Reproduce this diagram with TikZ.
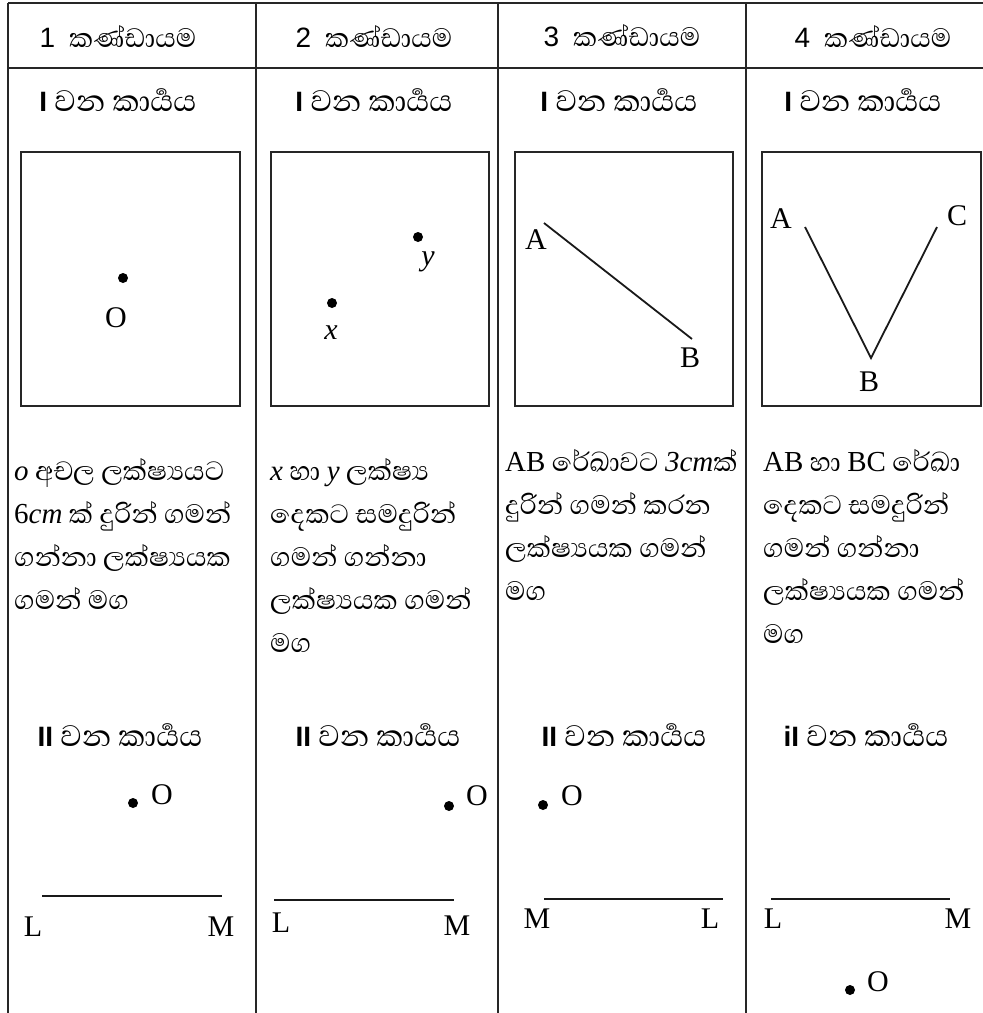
\documentclass[tikz,border=0pt]{standalone}
\usepackage{fontspec}
\setmainfont{Liberation Serif}
\newfontfamily\sinhfont[Script=Sinhala]{Abhaya Libre}
\newfontfamily\headfont{Liberation Sans}
\usetikzlibrary{positioning}
\newcommand{\lat}[1]{{\rmfamily\fontsize{29}{29}\selectfont #1}}
\newcommand{\latit}[1]{{\rmfamily\itshape\fontsize{29}{29}\selectfont #1}}
\newcommand{\hd}[1]{{\headfont\fontsize{28}{28}\selectfont #1}}
\newcommand{\tk}[1]{{\headfont\bfseries\fontsize{28}{28}\selectfont #1}}

\tikzset{
  rule/.style={line width=1.8pt, draw=black!85},
  frame/.style={line width=2.2pt, draw=black!85},
  seg/.style={line width=1.8pt, draw=black!90},
  dot/.style={circle, fill=black, inner sep=0pt, minimum size=10pt},
  lbl/.style={font=\fontsize{30}{30}\selectfont, inner sep=0pt},
  head/.style={font=\sinhfont\fontsize{34}{34}\selectfont, inner sep=0pt},
  task/.style={font=\sinhfont\fontsize{38}{38}\selectfont, inner sep=0pt},
  body/.style={font=\sinhfont\fontsize{34}{34}\selectfont, anchor=base west, inner sep=0pt},
}

\begin{document}
\begin{tikzpicture}[x=1pt,y=-1pt]
\useasboundingbox (0,0) rectangle (983,1013);
% table rules
\draw[rule] (8,3) -- (983,3);
\draw[rule] (8,68) -- (983,68);
\foreach \x in {8,256,498,746}{\draw[rule] (\x,3) -- (\x,1013);}

% header and first task row
\node[head] (h1) at (118,36) {\hd{1}\hspace{14pt}කණ්ඩායම};
\node[head] (h2) at (374,36) {\hd{2}\hspace{14pt}කණ්ඩායම};
\node[head] (h3) at (622,36) {\hd{3}\hspace{14pt}කණ්ඩායම};
\node[head] (h4) at (873,36) {\hd{4}\hspace{14pt}කණ්ඩායම};
\node[task] (t1) at (118,100) {\tk{I} වන කාර්‍යය};
\node[task] (t2) at (374,100) {\tk{I} වන කාර්‍යය};
\node[task] (t3) at (619,100) {\tk{I} වන කාර්‍යය};
\node[task] (t4) at (863,100) {\tk{I} වන කාර්‍යය};

% boxes of task I
\draw[frame] (21,152) rectangle (240,406);
\draw[frame] (271,152) rectangle (489,406);
\draw[frame] (515,152) rectangle (733,406);
\draw[frame] (762,152) rectangle (981,406);

\node[dot] (o1) at (123,278) {}; \node[lbl] (o1l) at (116,318) {O};
\node[dot] (y2) at (418,237) {}; \node[lbl] (y2l) at (428,262) {\itshape y};
\node[dot] (x2) at (332,303) {}; \node[lbl] (x2l) at (331,333) {\itshape x};

\coordinate (a3) at (544,223); \coordinate (b3) at (692,339);
\draw[seg] (a3) -- (b3);
\node[lbl] (a3l) at (536,240) {A}; \node[lbl] (b3l) at (690,358) {B};

\coordinate (a4) at (805,227); \coordinate (b4) at (871,358); \coordinate (c4) at (937,227);
\draw[seg] (a4) -- (b4) -- (c4);
\node[lbl] (a4l) at (781,219) {A}; \node[lbl] (c4l) at (957,216) {C};
\node[lbl] (b4l) at (869,382) {B};

% descriptions
\foreach \t [count=\i] in {{\latit{o} අචල ලක්ෂ්‍යයට},{\lat{6}\latit{cm} ක් දුරින් ගමන්},{ගන්නා ලක්ෂ්‍යයක},{ගමන් මග}}
  {\node[body] (d1-\i) at (14,480+43*\i-43) {\t};}
\foreach \t [count=\i] in {{\latit{x} හා \latit{y} ලක්ෂ්‍ය},{දෙකට සමදුරින්},{ගමන් ගන්නා},{ලක්ෂ්‍යයක ගමන්},{මග}}
  {\node[body] (d2-\i) at (270,480+43*\i-43) {\t};}
\foreach \t [count=\i] in {{\lat{AB} රේඛාවට \latit{3cm}ක්},{දුරින් ගමන් කරන},{ලක්ෂ්‍යයක ගමන්},{මග}}
  {\node[body] (d3-\i) at (505,471+43*\i-43) {\t};}
\foreach \t [count=\i] in {{\lat{AB} හා \lat{BC} රේඛා},{දෙකට සමදුරින්},{ගමන් ගන්නා},{ලක්ෂ්‍යයක ගමන්},{මග}}
  {\node[body] (d4-\i) at (763,471+43*\i-43) {\t};}

% second task row
\node[task] (s1) at (120,735) {\tk{II} වන කාර්‍යය};
\node[task] (s2) at (378,735) {\tk{II} වන කාර්‍යය};
\node[task] (s3) at (624,735) {\tk{II} වන කාර්‍යය};
\node[task] (s4) at (866,735) {\tk{iI} වන කාර්‍යය};

\node[dot] (p1) at (133,803) {}; \node[lbl] (p1l) at (162,795) {O};
\coordinate (l1) at (42,896); \coordinate (m1) at (222,896);
\draw[seg] (l1) -- (m1);
\node[lbl] (l1l) at (33,927) {L}; \node[lbl] (m1l) at (221,927) {M};

\node[dot] (p2) at (449,806) {}; \node[lbl] (p2l) at (477,796) {O};
\coordinate (l2) at (274,900); \coordinate (m2) at (454,900);
\draw[seg] (l2) -- (m2);
\node[lbl] (l2l) at (281,923) {L}; \node[lbl] (m2l) at (457,926) {M};

\node[dot] (p3) at (543,805) {}; \node[lbl] (p3l) at (572,796) {O};
\coordinate (m3) at (544,899); \coordinate (l3) at (723,899);
\draw[seg] (m3) -- (l3);
\node[lbl] (m3l) at (537,919) {M}; \node[lbl] (l3l) at (710,919) {L};

\coordinate (l4) at (771,899); \coordinate (m4) at (950,899);
\draw[seg] (l4) -- (m4);
\node[lbl] (l4l) at (773,919) {L}; \node[lbl] (m4l) at (958,919) {M};
\node[dot] (p4) at (850,990) {}; \node[lbl] (p4l) at (878,982) {O};
\end{tikzpicture}
\end{document}
